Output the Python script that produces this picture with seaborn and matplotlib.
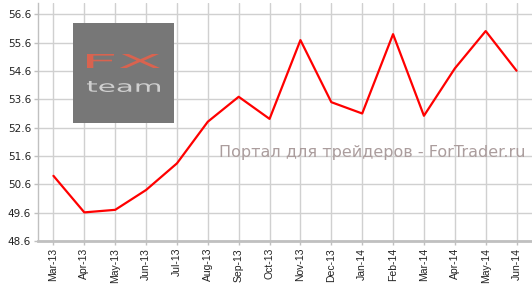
import matplotlib
matplotlib.use("Agg")
import matplotlib.pyplot as plt
import seaborn as sns
import pandas as pd
from matplotlib.patches import Rectangle, PathPatch
from matplotlib.textpath import TextPath
from matplotlib.font_manager import FontProperties
from matplotlib.transforms import Affine2D, IdentityTransform

months = ["Mar-13", "Apr-13", "May-13", "Jun-13", "Jul-13", "Aug-13", "Sep-13", "Oct-13",
          "Nov-13", "Dec-13", "Jan-14", "Feb-14", "Mar-14", "Apr-14", "May-14", "Jun-14"]
values = [50.90, 49.61, 49.70, 50.40, 51.34, 52.81, 53.69, 52.91,
          55.69, 53.50, 53.10, 55.90, 53.02, 54.69, 56.01, 54.61]
yticks = [48.6, 49.6, 50.6, 51.6, 52.6, 53.6, 54.6, 55.6, 56.6]

sns.set_style("white")
plt.rcParams['font.family'] = ['DejaVu Sans']

W, H = 532, 286
fig = plt.figure(figsize=(W / 100, H / 100), dpi=100)
ax = fig.add_axes([38 / W, (H - 241) / H, (532 - 38) / W, (241 - 3) / H])

df = pd.DataFrame({"idx": range(len(months)), "val": values})

# watermark box
box = Rectangle((73 / W, (H - 123) / H), 101 / W, 100 / H, transform=fig.transFigure,
                facecolor="#777777", edgecolor="none", zorder=0)
fig.patches.append(box)
ax.set_facecolor("none")


def fitted_text(s, x0, x1, ytop, ybot, color):
    tp = TextPath((0, 0), s, size=20, prop=FontProperties(family="DejaVu Sans"))
    ext = tp.get_extents()
    sx = (x1 - x0) / ext.width
    sy = (ybot - ytop) / ext.height
    tr = Affine2D().translate(-ext.x0, -ext.y0).scale(sx, sy).translate(x0, H - ybot)
    path = tr.transform_path(tp)
    patch = PathPatch(path, facecolor=color, edgecolor="none",
                      transform=IdentityTransform(), zorder=1)
    fig.patches.append(patch)


sns.lineplot(data=df, x="idx", y="val", ax=ax, color="#ff0000", linewidth=1.6, zorder=3)

ax.set_xlim(-0.5, len(months) - 0.5)
ax.set_ylim(48.6, 57.0)
ax.set_xticks(range(len(months)))
ax.set_xticklabels(months, rotation=90, fontsize=7.5, family="Liberation Sans", color="#222222")
ax.set_yticks(yticks)
ax.set_yticklabels([f"{v:.1f}" for v in yticks], fontsize=7.5, color="#222222")
ax.set_xlabel("")
ax.set_ylabel("")

ax.grid(True, color="#d0d0d0", linewidth=1.0, zorder=1)
ax.set_axisbelow(True)
for s in ["top", "right"]:
    ax.spines[s].set_visible(False)
ax.spines["left"].set_color("#c0c0c0")
ax.spines["bottom"].set_color("#c0c0c0")
ax.spines["bottom"].set_linewidth(2)
ax.spines["left"].set_linewidth(1)
ax.tick_params(axis="both", which="both", length=3, color="#c0c0c0", width=1, pad=2,
               left=True, bottom=True)

# logo
fitted_text("FX", 87, 160, 54, 68, "#d9634f")
fitted_text("team", 87, 160, 81, 92, "#cfcfcf")

fig.text(372 / W, (H - 153) / H, "Портал для трейдеров - ForTrader.ru", fontsize=11.5,
         color="#ab9d9d", ha="center", va="center", family="DejaVu Sans", zorder=4)

fig.savefig("out.png", dpi=100)
